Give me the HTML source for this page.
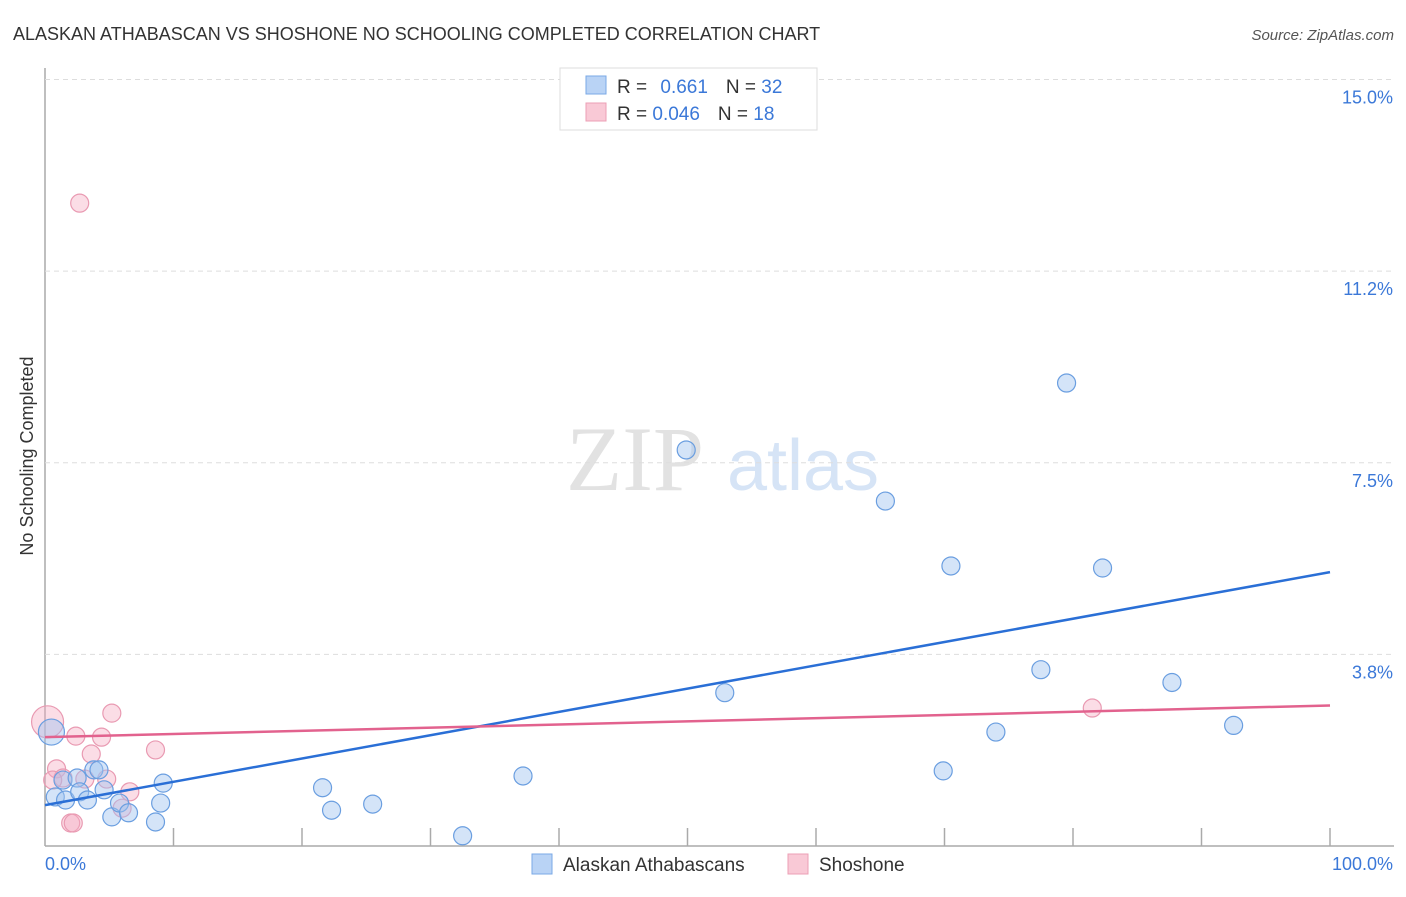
<!DOCTYPE html>
<html><head><meta charset="utf-8"><style>
body{margin:0;background:#fff;font-family:"Liberation Sans",sans-serif}
</style></head><body>
<svg id="c" width="1406" height="892" xmlns="http://www.w3.org/2000/svg">
<text x="13" y="40" font-size="18" fill="#333">ALASKAN ATHABASCAN VS SHOSHONE NO SCHOOLING COMPLETED CORRELATION CHART</text>
<text x="1394" y="40" font-size="15" fill="#555" font-style="italic" text-anchor="end">Source: ZipAtlas.com</text>
<text x="33" y="456" font-size="18" fill="#333" text-anchor="middle" transform="rotate(-90 33 456)">No Schooling Completed</text>
<g>
<text x="635" y="490" font-size="92" fill="#e2e2e2" font-family="Liberation Serif,serif" text-anchor="middle">ZIP</text>
<text x="803" y="490" font-size="72" fill="#d6e4f6" text-anchor="middle">atlas</text>
</g>
<g id="grid"></g><g id="pts"></g><g id="lines"></g>
<g>
<rect x="560" y="68" width="257" height="62" fill="#fff" stroke="#ddd"/>
<rect x="586" y="76" width="20" height="18" fill="#b9d3f5" stroke="#7aa8e6"/>
<rect x="586" y="103" width="20" height="18" fill="#f9c9d6" stroke="#ec9fb5"/>
<text x="617" y="93" font-size="19" fill="#333">R = <tspan fill="#3b78d8" dx="8">0.661</tspan><tspan dx="18" fill="#333">N = </tspan><tspan fill="#3b78d8">32</tspan></text>
<text x="617" y="120" font-size="19" fill="#333">R = <tspan fill="#3b78d8">0.046</tspan><tspan dx="18" fill="#333">N = </tspan><tspan fill="#3b78d8">18</tspan></text>
</g>
<g>
<rect x="532" y="854" width="20" height="20" fill="#b9d3f5" stroke="#7aa8e6"/>
<text x="563" y="871" font-size="19" fill="#333">Alaskan Athabascans</text>
<rect x="788" y="854" width="20" height="20" fill="#f9c9d6" stroke="#ec9fb5"/>
<text x="819" y="871" font-size="19" fill="#333">Shoshone</text>
</g>
</svg>
<script>
const yTicks=[3.75,7.5,11.25,15];
const yTickLabels=["3.8%","7.5%","11.2%","15.0%"];
const xTicks=[0,10,20,30,40,50,60,70,80,90,100];
const blueX=[0.5,1.4,2.5,0.8,1.6,2.7,3.3,3.8,4.2,4.6,5.2,5.8,6.5,8.6,9.0,9.2,21.6,22.3,25.5,32.5,37.2,49.9,52.9,65.4,69.9,70.5,74.0,77.5,79.5,82.3,87.7,92.5];
const blueY=[2.23,1.29,1.33,0.96,0.90,1.06,0.90,1.49,1.49,1.10,0.57,0.84,0.65,0.47,0.84,1.23,1.14,0.70,0.82,0.20,1.37,7.75,3.0,6.75,1.47,5.48,2.23,3.45,9.06,5.44,3.2,2.36];
const pinkX=[0.2,5.2,2.4,4.4,3.6,8.6,0.9,1.4,3.1,4.8,6.6,6.0,2.0,2.2,0.6,2.7,81.5];
const pinkY=[2.43,2.60,2.15,2.13,1.80,1.88,1.51,1.33,1.31,1.31,1.06,0.74,0.45,0.45,1.29,12.58,2.70];
const blueR=[13,9,9,9,9,9,9,9,9,9,9,9,9,9,9,9,9,9,9,9,9,9,9,9,9,9,9,9,9,9,9,9];
const blueLine=[0.80,5.36];
const pinkLine=[2.13,2.75];
const NS="http://www.w3.org/2000/svg";
const X=v=>45+v*12.85, Y=v=>846-v*51.1;
function mk(t,a,p){const e=document.createElementNS(NS,t);for(const k in a)e.setAttribute(k,a[k]);p.appendChild(e);return e;}
const svg=document.getElementById('c'),grid=document.getElementById('grid'),pts=document.getElementById('pts'),lines=document.getElementById('lines');
mk('line',{x1:45,y1:68,x2:45,y2:846,stroke:'#aaa','stroke-width':1.5},grid);
mk('line',{x1:45,y1:846,x2:1394,y2:846,stroke:'#aaa','stroke-width':1.5},grid);
yTicks.forEach((v,i)=>{
 const l=mk('line',{x1:45,y1:Y(v),x2:1394,y2:Y(v),stroke:'#ddd','stroke-dasharray':'5 4'},grid);
 
 
 const t=mk('text',{x:1393,y:Y(v)+24,'font-size':18,fill:'#3b78d8','text-anchor':'end'},grid);t.textContent=yTickLabels[i];
 
 
});
xTicks.forEach(v=>{if(v>0){const l=mk('line',{x1:X(v),y1:828,x2:X(v),y2:846,stroke:'#aaa','stroke-width':1.5},grid);
 
 }});
const xl0=mk('text',{x:45,y:870,'font-size':18,fill:'#3b78d8'},grid);xl0.textContent='0.0%';


const xl1=mk('text',{x:1393,y:870,'font-size':18,fill:'#3b78d8','text-anchor':'end'},grid);xl1.textContent='100.0%';


pinkX.forEach((v,i)=>{const c=mk('circle',{cx:X(v),cy:Y(pinkY[i]),r:i==0?16:9,fill:'rgba(246,170,192,0.4)',stroke:'#e99ab2','stroke-width':1.2},pts);
 
 });
blueX.forEach((v,i)=>{const c=mk('circle',{cx:X(v),cy:Y(blueY[i]),r:blueR[i],fill:'rgba(160,196,240,0.45)',stroke:'#6a9ee0','stroke-width':1.2},pts);
 
 });
const bl=mk('line',{x1:X(0),y1:Y(blueLine[0]),x2:X(100),y2:Y(blueLine[1]),stroke:'#2a6fd6','stroke-width':2.5},lines);


const pl=mk('line',{x1:X(0),y1:Y(pinkLine[0]),x2:X(100),y2:Y(pinkLine[1]),stroke:'#e2628e','stroke-width':2.5},lines);


</script>
</body></html>
